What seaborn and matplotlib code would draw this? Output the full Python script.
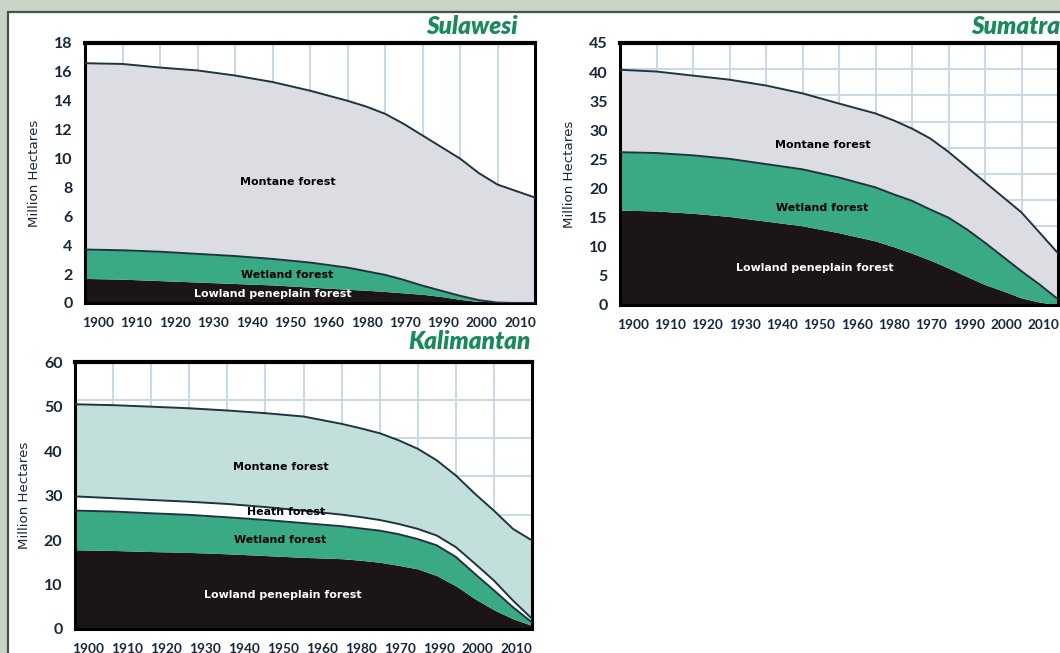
import numpy as np
import matplotlib
matplotlib.use("Agg")
import matplotlib.pyplot as plt
import seaborn as sns
import pandas as pd
from matplotlib.patches import Rectangle

sns.set_theme(style="white")
plt.rcParams['font.family'] = ['Lato', 'DejaVu Sans']

# ---------------- data ----------------
tick_labels = ['1900', '1910', '1920', '1930', '1940', '1950', '1960',
               '1980', '1970', '1990', '2000', '2010']
# sample positions along the time axis (in grid-cell units, 0 = left edge, 12 = right edge)
steps = [0, 1, 2, 3, 4, 5, 6, 7, 7.5, 8, 8.5, 9, 9.5, 10, 10.5, 11, 11.5, 12]

# Sulawesi (million ha, cumulative boundaries)
sul_lowland = [1.7, 1.65, 1.55, 1.45, 1.35, 1.25, 1.1, 0.95, 0.88, 0.8, 0.7, 0.6, 0.45, 0.25, 0.1, 0.0, 0.0, 0.0]
sul_wetland = [3.7, 3.65, 3.55, 3.4, 3.25, 3.05, 2.8, 2.45, 2.2, 1.95, 1.6, 1.2, 0.85, 0.5, 0.2, 0.03, 0.0, 0.0]
sul_montane = [16.6, 16.55, 16.3, 16.1, 15.75, 15.3, 14.7, 14.0, 13.6, 13.1, 12.4, 11.6, 10.8, 10.0, 9.0, 8.2, 7.75, 7.3]

# Sumatra
sum_lowland = [16.3, 16.15, 15.75, 15.2, 14.4, 13.6, 12.4, 11.0, 10.0, 8.9, 7.7, 6.35, 4.9, 3.5, 2.4, 1.2, 0.5, 0.0]
sum_wetland = [26.25, 26.1, 25.7, 25.1, 24.2, 23.3, 21.9, 20.2, 19.0, 17.9, 16.4, 15.0, 13.0, 10.7, 8.25, 5.8, 3.5, 1.0]
sum_montane = [40.4, 40.1, 39.4, 38.7, 37.7, 36.35, 34.6, 32.9, 31.7, 30.3, 28.6, 26.3, 23.7, 21.1, 18.5, 15.9, 12.4, 8.9]

# Kalimantan
kal_lowland = [17.8, 17.65, 17.4, 17.2, 16.9, 16.5, 16.1, 15.8, 15.45, 15.0, 14.3, 13.5, 12.0, 9.7, 6.8, 4.3, 2.3, 0.8]
kal_wetland = [26.6, 26.4, 26.0, 25.65, 25.1, 24.5, 23.8, 23.1, 22.6, 22.1, 21.3, 20.2, 18.8, 16.2, 12.4, 8.7, 4.9, 1.5]
kal_heath = [29.8, 29.4, 29.0, 28.6, 28.1, 27.4, 26.6, 25.7, 25.15, 24.5, 23.6, 22.5, 21.0, 18.4, 14.7, 10.9, 6.4, 2.3]
kal_montane = [50.5, 50.3, 49.96, 49.6, 49.1, 48.5, 47.75, 46.1, 45.1, 44.0, 42.4, 40.5, 37.9, 34.5, 30.4, 26.6, 22.5, 19.9]

# ---------------- style ----------------
BG = '#c9d4c7'
GRID = '#c6d9e6'
LINE = '#1c3540'
C_LOW = '#1b1418'
C_WET = '#3aaa84'
C_MON_GREY = '#dcdde2'
C_MON_TEAL = '#c3dfdb'
C_HEATH = '#ffffff'
TITLE_C = '#1a8a5c'
TICK_C = '#17283a'

W, H = 1060, 653
fig = plt.figure(figsize=(W / 100, H / 100), dpi=100, facecolor=BG)
fig.patches.append(Rectangle((8 / W, -0.05), 1.1, 1 - 12 / H + 0.05,
                             transform=fig.transFigure, facecolor='white',
                             edgecolor='#44524a', linewidth=1.6, zorder=-10))


def make_ax(left, right, top, bottom):
    return fig.add_axes([left / W, 1 - bottom / H, (right - left) / W, (bottom - top) / H])


def panel(ax, layers, colors, ymax, ystep, ngrid, title, title_xy, labels):
    x = np.array(steps, dtype=float)
    prev = np.zeros_like(x)
    for vals, col in zip(layers, colors):
        v = np.array(vals)
        ax.fill_between(x, prev, v, color=col, linewidth=0, zorder=2)
        prev = v
    # outline lines
    for i, vals in enumerate(layers):
        if i == 0:
            continue
        df = pd.DataFrame({'x': x, 'y': vals})
        sns.lineplot(data=df, x='x', y='y', ax=ax, color=LINE, linewidth=1.4,
                     zorder=3, legend=False)
    ax.set_xlim(0, 12)
    ax.set_ylim(0, ymax)
    # labelled ticks (major) and decorative grid (minor)
    ax.set_xticks(np.linspace(0.35, 11.6, 12))
    ax.set_xticklabels(tick_labels)
    ax.set_xticks(np.arange(0, 13), minor=True)
    ax.set_yticks(np.arange(0, ymax + 0.01, ystep))
    ax.set_yticks(np.linspace(0, ymax, ngrid + 1), minor=True)
    ax.grid(False, which='major')
    ax.grid(True, which='minor', color=GRID, linewidth=1.4)
    ax.set_axisbelow(True)
    ax.tick_params(axis='both', which='both', length=0)
    ax.tick_params(axis='x', which='major', pad=10, labelsize=9.8, labelcolor=TICK_C)
    ax.tick_params(axis='y', which='major', pad=9, labelsize=11.5, labelcolor=TICK_C)
    for lab in ax.get_xticklabels() + ax.get_yticklabels():
        lab.set_fontweight('bold')
    ax.set_xlabel('')
    ax.set_ylabel('Million Hectares', fontsize=9.6,
                  family=['Liberation Sans Narrow', 'DejaVu Sans'],
                  color=TICK_C, labelpad=9)
    for s in ax.spines.values():
        s.set_visible(True)
        s.set_color('black')
        s.set_linewidth(2.2)
    ax.spines['top'].set_linewidth(3)
    ax.set_facecolor('white')
    fig.text(title_xy[0] / W, 1 - title_xy[1] / H, title, ha='right', va='center',
             fontsize=17.5, fontweight='heavy', style='italic', color=TITLE_C)
    for (tx, ty, txt, col) in labels:
        ax.text(tx, ty, txt, ha='center', va='center', fontsize=7.9,
                fontweight='bold', family=['DejaVu Sans'], color=col, zorder=5)


ax1 = make_ax(85, 535, 43, 303)
panel(ax1, [sul_lowland, sul_wetland, sul_montane], [C_LOW, C_WET, C_MON_GREY],
      18, 2, 9, 'Sulawesi', (518, 26),
      [(5.4, 8.4, 'Montane forest', 'black'),
       (5.4, 1.95, 'Wetland forest', 'black'),
       (5.0, 0.6, 'Lowland peneplain forest', 'white')])

ax2 = make_ax(620, 1058, 43, 305)
panel(ax2, [sum_lowland, sum_wetland, sum_montane], [C_LOW, C_WET, C_MON_GREY],
      45, 5, 10, 'Sumatra', (1060, 26),
      [(5.55, 27.5, 'Montane forest', 'black'),
       (5.55, 16.7, 'Wetland forest', 'black'),
       (5.35, 6.35, 'Lowland peneplain forest', 'white')])

ax3 = make_ax(75, 532, 362, 629)
panel(ax3, [kal_lowland, kal_wetland, kal_heath, kal_montane],
      [C_LOW, C_WET, C_HEATH, C_MON_TEAL],
      60, 10, 7, 'Kalimantan', (531, 341),
      [(5.4, 36.4, 'Montane forest', 'black'),
       (5.55, 26.2, 'Heath forest', 'black'),
       (5.4, 20.0, 'Wetland forest', 'black'),
       (5.45, 7.6, 'Lowland peneplain forest', 'white')])

fig.savefig('out.png', dpi=100, facecolor=BG)
